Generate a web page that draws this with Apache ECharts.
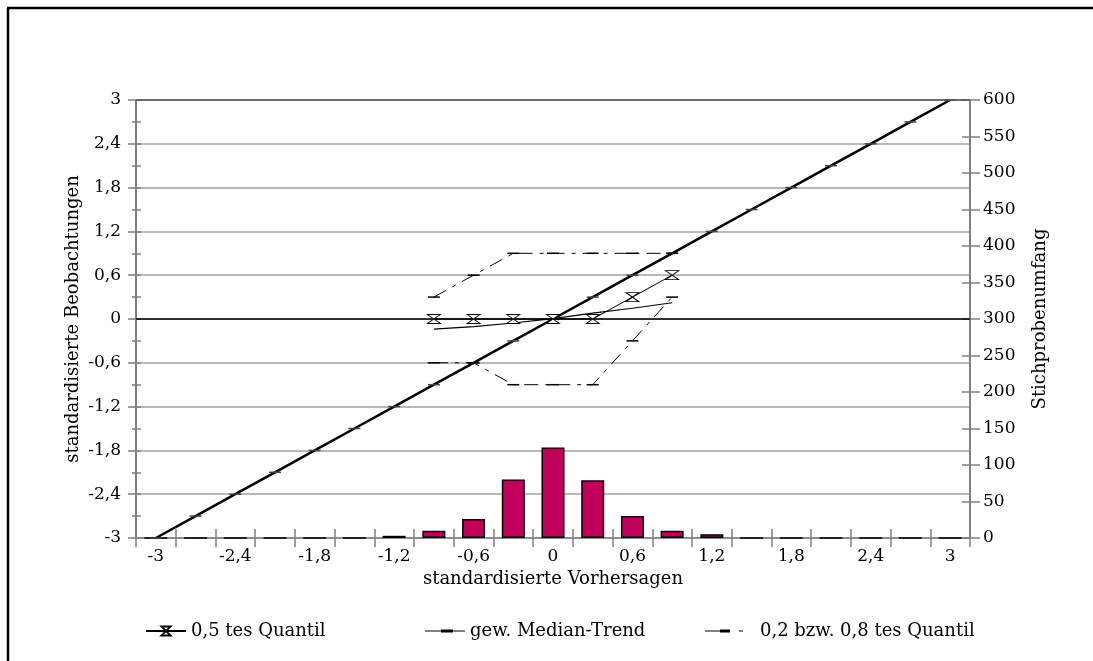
<!DOCTYPE html>
<html>
<head>
<meta charset="utf-8">
<style>
  html, body { margin: 0; padding: 0; background: #fff; }
  #chart { width: 1093px; height: 661px; }
</style>
<script src="https://cdn.jsdelivr.net/npm/echarts@6/dist/echarts.min.js"></script>
</head>
<body>
<div id="chart"></div>
<script>
// Classes of standardised predictions (category axis)
const categories = ['-3', '-2,7', '-2,4', '-2,1', '-1,8', '-1,5', '-1,2', '-0,9', '-0,6', '-0,3', '0',
                    '0,3', '0,6', '0,9', '1,2', '1,5', '1,8', '2,1', '2,4', '2,7', '3'];
// Sample size per class (right axis)
const sampleSize = [0, 0, 0, 0, 0, 0, 3, 10, 26, 80, 124, 79, 30, 10, 5, 0, 0, 0, 0, 0, 0];
// Reference diagonal (observation = prediction)
const diagonal = [-3, -2.7, -2.4, -2.1, -1.8, -1.5, -1.2, -0.9, -0.6, -0.3, 0,
                  0.3, 0.6, 0.9, 1.2, 1.5, 1.8, 2.1, 2.4, 2.7, 3];
// Classes -0,9 ... 0,9 that carry quantile estimates
const firstQuantileIndex = 7;
const median = [0, 0, 0, 0, 0, 0.3, 0.6];
const medianTrend = [-0.14, -0.105, -0.055, 0.005, 0.08, 0.147, 0.223];
const quantile20 = [-0.6, -0.6, -0.9, -0.9, -0.9, -0.3, 0.3];
const quantile80 = [0.3, 0.6, 0.9, 0.9, 0.9, 0.9, 0.9];

function pad(values) {
  const out = categories.map(() => null);
  values.forEach((v, i) => { out[firstQuantileIndex + i] = v; });
  return out;
}

const FONT = 'DejaVu Serif';
const AXIS_GRAY = '#808080';
const hourglass = 'path://M0,0 L12,0 L0,8 L12,8 Z';
// Legend glyphs: thin line with a thicker dash; dash-dot line with a dash
const medianIcon = 'path://M0,1 L40,1 L40,2 L0,2 Z M16,0 L28,0 L28,3 L16,3 Z';
const quantileIcon = 'path://M0,1 L25,1 L25,2 L0,2 Z M15,0 L25,0 L25,3 L15,3 Z M34,1 L38,1 L38,2 L34,2 Z';

const chart = echarts.init(document.getElementById('chart'), null, { renderer: 'canvas' });

const legendText = { fontFamily: FONT, fontSize: 18, color: '#000' };

chart.setOption({
  animation: false,
  backgroundColor: '#ffffff',
  textStyle: { fontFamily: FONT, color: '#000' },
  grid: { left: 136, right: 123, top: 100, bottom: 123, containLabel: false },
  graphic: [
    { type: 'line', shape: { x1: 8, y1: 8, x2: 8, y2: 661 }, style: { stroke: '#000', lineWidth: 2.5 } },
    { type: 'line', shape: { x1: 7, y1: 8, x2: 1093, y2: 8 }, style: { stroke: '#000', lineWidth: 2.5 } }
  ],
  legend: [
    { left: 140, top: 617, itemWidth: 40, itemHeight: 11, data: ['0,5 tes Quantil'], textStyle: legendText },
    { left: 420, top: 617, itemWidth: 40, itemHeight: 3,
      data: [{ name: 'gew. Median-Trend', icon: medianIcon }], textStyle: legendText,
      itemStyle: { color: '#000' } },
    { left: 700, top: 617, itemWidth: 38, itemHeight: 3,
      data: [{ name: '0,2 bzw. 0,8 tes Quantil', icon: quantileIcon }],
      textStyle: Object.assign({ padding: [0, 0, 0, 12] }, legendText),
      itemStyle: { color: '#000' } }
  ],
  xAxis: [
    {
      type: 'category', data: categories, boundaryGap: true, position: 'bottom',
      name: 'standardisierte Vorhersagen', nameLocation: 'middle', nameGap: 30,
      nameTextStyle: { fontFamily: FONT, fontSize: 18, color: '#000' },
      axisLine: { show: true, onZero: false, lineStyle: { color: AXIS_GRAY, width: 1.5 } },
      axisTick: { show: true, alignWithLabel: false, interval: 0, length: 9, lineStyle: { color: AXIS_GRAY, width: 1.5 } },
      axisLabel: { interval: 1, margin: 10, fontFamily: FONT, fontSize: 17, color: '#000' },
      splitLine: { show: false }
    },
    {
      type: 'category', data: categories, boundaryGap: true, position: 'bottom',
      axisLine: { show: false, onZero: false },
      axisTick: { show: true, inside: true, interval: 0, length: 9, lineStyle: { color: AXIS_GRAY, width: 1.5 } },
      axisLabel: { show: false },
      splitLine: { show: false }
    }
  ],
  yAxis: [
    {
      type: 'value', position: 'left', min: -3, max: 3, interval: 0.6,
      name: 'standardisierte Beobachtungen', nameLocation: 'middle', nameGap: 54, nameRotate: 90,
      nameMoveOverlap: false,
      nameTextStyle: { fontFamily: FONT, fontSize: 18, color: '#000' },
      axisLine: { show: true, lineStyle: { color: AXIS_GRAY, width: 2 } },
      axisTick: { show: true, length: 8, lineStyle: { color: AXIS_GRAY, width: 1.5 } },
      minorTick: { show: true, splitNumber: 2, length: 4, lineStyle: { color: AXIS_GRAY, width: 1.5 } },
      axisLabel: { margin: 15, fontFamily: FONT, fontSize: 17, color: '#000',
                   formatter: v => String(Math.round(v * 10) / 10).replace('.', ',') },
      splitLine: { show: true, lineStyle: { color: '#a0a0a0', width: 1.5 } }
    },
    {
      type: 'value', position: 'right', min: 0, max: 600, interval: 50,
      name: 'Stichprobenumfang', nameLocation: 'middle', nameGap: 61, nameRotate: 90,
      nameMoveOverlap: false,
      nameTextStyle: { fontFamily: FONT, fontSize: 18, color: '#000' },
      axisLine: { show: true, lineStyle: { color: AXIS_GRAY, width: 2 } },
      axisTick: { show: true, length: 10, lineStyle: { color: AXIS_GRAY, width: 1.5 } },
      axisLabel: { margin: 13, fontFamily: FONT, fontSize: 17, color: '#000' },
      splitLine: { show: false }
    },
    {
      type: 'value', position: 'left', min: -3, max: 3, interval: 0.3,
      axisLine: { show: false },
      axisTick: { show: true, inside: true, length: 5, lineStyle: { color: AXIS_GRAY, width: 1.5 } },
      axisLabel: { show: false }, splitLine: { show: false }
    },
    {
      type: 'value', position: 'right', min: 0, max: 600, interval: 50,
      axisLine: { show: false },
      axisTick: { show: true, inside: true, length: 8, lineStyle: { color: AXIS_GRAY, width: 1.5 } },
      axisLabel: { show: false }, splitLine: { show: false }
    }
  ],
  series: [
    {
      name: 'Stichprobenumfang', type: 'bar', xAxisIndex: 0, yAxisIndex: 1,
      data: sampleSize, barWidth: 23, z: 2,
      itemStyle: { color: '#C2005C', borderColor: '#000', borderWidth: 1.5 }
    },
    {
      name: 'Diagonale', type: 'line', xAxisIndex: 0, yAxisIndex: 0, data: diagonal, z: 3,
      symbol: 'rect', symbolSize: [12, 1.5], showSymbol: true,
      lineStyle: { color: '#000', width: 2.5 },
      itemStyle: { color: '#444' },
      markLine: {
        silent: true, symbol: 'none', label: { show: false },
        data: [
          { yAxis: 0, lineStyle: { color: '#000', width: 1.5, type: 'solid' } },
          { yAxis: 3, lineStyle: { color: '#555', width: 1.5, type: 'solid' } }
        ]
      }
    },
    {
      name: '0,2 bzw. 0,8 tes Quantil', type: 'line', xAxisIndex: 0, yAxisIndex: 0, data: pad(quantile20), z: 4,
      symbol: 'rect', symbolSize: [12, 1.5],
      lineStyle: { color: '#000', width: 1, type: [14, 7, 4, 7] },
      itemStyle: { color: '#000' }
    },
    {
      name: '0,2 bzw. 0,8 tes Quantil', type: 'line', xAxisIndex: 0, yAxisIndex: 0, data: pad(quantile80), z: 4,
      symbol: 'rect', symbolSize: [12, 1.5],
      lineStyle: { color: '#000', width: 1, type: [14, 7, 4, 7] },
      itemStyle: { color: '#000' }
    },
    {
      name: 'gew. Median-Trend', type: 'line', xAxisIndex: 0, yAxisIndex: 0, data: pad(medianTrend), z: 5,
      symbol: 'rect', symbolSize: [10, 2.5], showSymbol: false,
      lineStyle: { color: '#000', width: 1.2 },
      itemStyle: { color: '#000' }
    },
    {
      name: '0,5 tes Quantil', type: 'line', xAxisIndex: 0, yAxisIndex: 0, data: pad(median), z: 6,
      symbol: hourglass, symbolSize: [13, 9], showSymbol: true,
      lineStyle: { color: '#000', width: 1 },
      itemStyle: { color: '#fff', borderColor: '#000', borderWidth: 1 }
    }
  ]
});
</script>
</body>
</html>
